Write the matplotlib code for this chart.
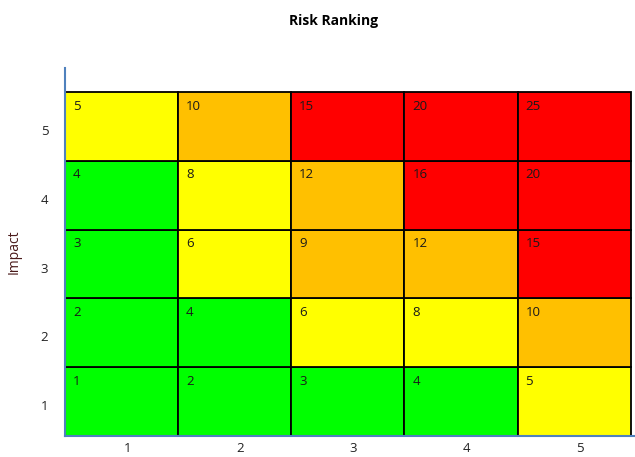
import matplotlib.pyplot as plt
import numpy as np

# Risk matrix data
likelihood = [1, 2, 3, 4, 5]
impact = [1, 2, 3, 4, 5]
# colour level per cell, rows = impact 1..5, cols = likelihood 1..5
# 0 = green, 1 = yellow, 2 = orange, 3 = red
levels = [
    [0, 0, 0, 0, 1],
    [0, 0, 1, 1, 2],
    [0, 1, 2, 2, 3],
    [0, 1, 2, 3, 3],
    [1, 2, 3, 3, 3],
]
level_colors = ['#00FF00', '#FFFF00', '#FFC000', '#FF0000']

fig = plt.figure(figsize=(6.35, 4.57), dpi=100)
ax = fig.add_axes([0.1024, 0.046, 0.898, 0.805])

for i, imp in enumerate(impact):
    for j, lik in enumerate(likelihood):
        ax.add_patch(plt.Rectangle((j, i), 1, 1, facecolor=level_colors[levels[i][j]],
                                   edgecolor='black', linewidth=1.3))
        ax.text(j + 0.07, i + 0.89, str(imp * lik), ha='left', va='top',
                fontsize=9.5, color='#1a1a1a', family='Open Sans')

ax.set_xlim(0, 5.04)
ax.set_ylim(0, 5.35)
ax.set_xticks(np.arange(len(likelihood)) + 0.55)
ax.set_xticklabels(likelihood)
ax.set_yticks(np.arange(len(impact)) + 0.45)
ax.set_yticklabels(impact)
ax.tick_params(length=0, labelsize=9.5, colors='#222222')
ax.tick_params(axis='y', pad=12)
ax.tick_params(axis='x', pad=4)
for lab in ax.get_xticklabels() + ax.get_yticklabels():
    lab.set_family('Open Sans')

for side in ['top', 'right']:
    ax.spines[side].set_visible(False)
for side in ['left', 'bottom']:
    ax.spines[side].set_color('#4F81BD')
    ax.spines[side].set_linewidth(1.5)

ax.set_ylabel('Impact', fontsize=10, color='#4a1a1a', family='Open Sans', labelpad=14)
fig.text(0.525, 0.955, 'Risk Ranking', ha='center', va='center', fontsize=10,
         fontweight='bold', family='Open Sans')

plt.savefig('out.png', dpi=100)
